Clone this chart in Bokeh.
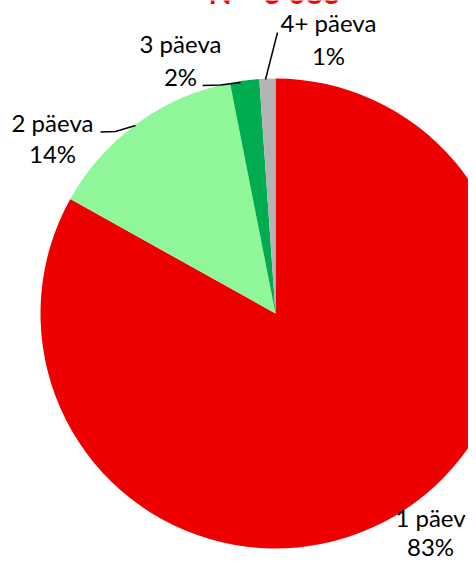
import numpy as np
from bokeh.plotting import figure
from bokeh.models import ColumnDataSource, Range1d
from bokeh.core.properties import value
from bokeh.embed import file_html
from bokeh.resources import INLINE

# ---- data ----
categories = ["1 päev", "2 päeva", "3 päeva", "4+ päeva"]
shares = [83.1, 13.8, 2.0, 1.1]          # percent, clockwise from 12 o'clock
pct_labels = ["83%", "14%", "2%", "1%"]
colors = ["#EE0000", "#8FF79A", "#00AC4F", "#B4B4B4"]
title_text = "N = 3 083"

W, H = 468, 560
p = figure(width=W, height=H, output_backend="svg", toolbar_location=None,
           x_range=Range1d(0, W), y_range=Range1d(0, H), min_border=0)
p.axis.visible = False
p.grid.visible = False
p.outline_line_color = None
p.background_fill_color = "white"
p.border_fill_color = "white"

def sx(x):  # picture x -> data x
    return x
def sy(y):  # picture y -> data y
    return H - y

cx, cy, r = sx(275), sy(313), 235

frac = np.array(shares) / sum(shares)
cum = np.concatenate([[0], np.cumsum(frac)])
start = np.pi / 2 - 2 * np.pi * cum[1:]
end = np.pi / 2 - 2 * np.pi * cum[:-1]
src = ColumnDataSource(dict(start=start, end=end, color=colors))
p.wedge(x=cx, y=cy, radius=r, radius_units="screen", start_angle="start",
        end_angle="end", direction="anticlock", fill_color="color",
        line_color=None, source=src)

# leader lines (layout)
p.line([sx(277), sx(265)], [sy(32), sy(79)], line_color="black", line_width=1.5)
p.line([sx(202), sx(220), sx(240)], [sy(85), sy(84.5), sy(82)], line_color="black", line_width=1.5)
p.line([sx(100), sx(115), sx(135)], [sy(131.5), sy(131), sy(125)], line_color="black", line_width=1.5)

# labels: (center x, baseline of name, baseline of pct) in picture px
lab_pos = [(430, 517, 546), (52, 122, 153), (180, 43, 76), (328, 22, 55)]
font = value("Lato")
lx = [sx(a) for a, _, _ in lab_pos]
p.text(x=lx, y=[sy(b) for _, b, _ in lab_pos], text=categories,
       text_align="center", text_baseline="alphabetic", text_font=font,
       text_font_size="24px", text_color="black")
p.text(x=lx, y=[sy(c) for _, _, c in lab_pos], text=pct_labels,
       text_align="center", text_baseline="alphabetic", text_font=font,
       text_font_size="24px", text_color="black")

# title (mostly cut off at the top, as in the reference)
p.text(x=[sx(274)], y=[sy(-9)], text=[title_text], text_align="center",
       text_baseline="alphabetic", text_font=font, text_font_style="bold",
       text_font_size="30px", text_color="#FF0000")

open("out.html", "w").write(file_html(p, INLINE))
